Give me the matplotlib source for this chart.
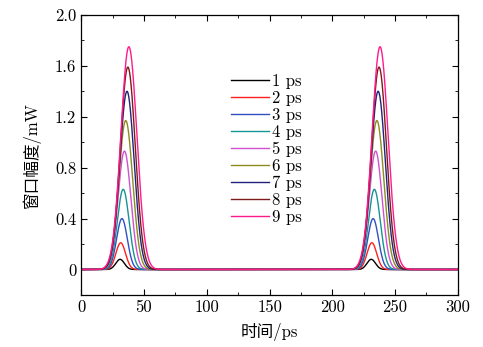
import numpy as np
import matplotlib
matplotlib.use('Agg')
import matplotlib.pyplot as plt
from matplotlib.ticker import MultipleLocator, FuncFormatter

# window widths (legend labels)
labels  = ['1 ps', '2 ps', '3 ps', '4 ps', '5 ps', '6 ps', '7 ps', '8 ps', '9 ps']
# peak amplitude (mW)
peaks   = [0.08, 0.21, 0.40, 0.63, 0.93, 1.17, 1.40, 1.59, 1.75]
# peak position of the first pulse (ps)
centers = [31.0, 31.5, 32.5, 33.5, 34.5, 35.5, 36.5, 37.2, 38.0]
# full width at half maximum (ps)
fwhm    = [8.0, 9.0, 10.0, 11.0, 12.0, 13.0, 13.5, 14.0, 15.0]
# second pulse is delayed by this much
delay   = 200.0
colors  = ['#000000', '#ff2020', '#3050c0', '#159595', '#d050d0',
           '#8c8c20', '#22227e', '#7e1a1a', '#ff1a8c']

plt.rcParams.update({
    'font.family':       ['cmr10', 'Noto Sans CJK SC', 'DejaVu Sans'],
    'font.size':         12,
    'axes.linewidth':    0.9,
    'axes.unicode_minus': False,
    'xtick.direction':   'in',
    'ytick.direction':   'in',
    'xtick.top':         True,
    'ytick.right':       True,
    'xtick.major.size':  4,
    'ytick.major.size':  4,
    'xtick.minor.size':  2,
    'ytick.minor.size':  2,
})

t = np.linspace(0, 300, 3001)

fig = plt.figure(figsize=(4.83, 3.47), dpi=100)
ax = fig.add_axes([0.168, 0.150, 0.780, 0.807])

for lab, a, c, w, col in zip(labels, peaks, centers, fwhm, colors):
    s = w / 2.355
    y = a * (np.exp(-(t - c)**2 / (2*s*s)) + np.exp(-(t - c - delay)**2 / (2*s*s)))
    ax.plot(t, y, color=col, lw=1.0, label=lab)

ax.set_xlim(0, 300)
ax.set_ylim(-0.2, 2.0)
ax.xaxis.set_major_locator(MultipleLocator(50))
ax.xaxis.set_minor_locator(MultipleLocator(25))
ax.yaxis.set_major_locator(MultipleLocator(0.4))
ax.yaxis.set_minor_locator(MultipleLocator(0.2))
ax.yaxis.set_major_formatter(FuncFormatter(lambda v, p: '0' if abs(v) < 1e-9 else '%.1f' % v))

ax.set_xlabel('时间/ps', labelpad=6)
ax.set_ylabel('窗口幅度/mW', labelpad=10)

leg = ax.legend(loc='upper left', bbox_to_anchor=(0.375, 0.82), frameon=False,
                handlelength=2.3, handletextpad=0.2, labelspacing=0.1,
                borderpad=0, fontsize=12)

fig.savefig('out.png', dpi=100)
